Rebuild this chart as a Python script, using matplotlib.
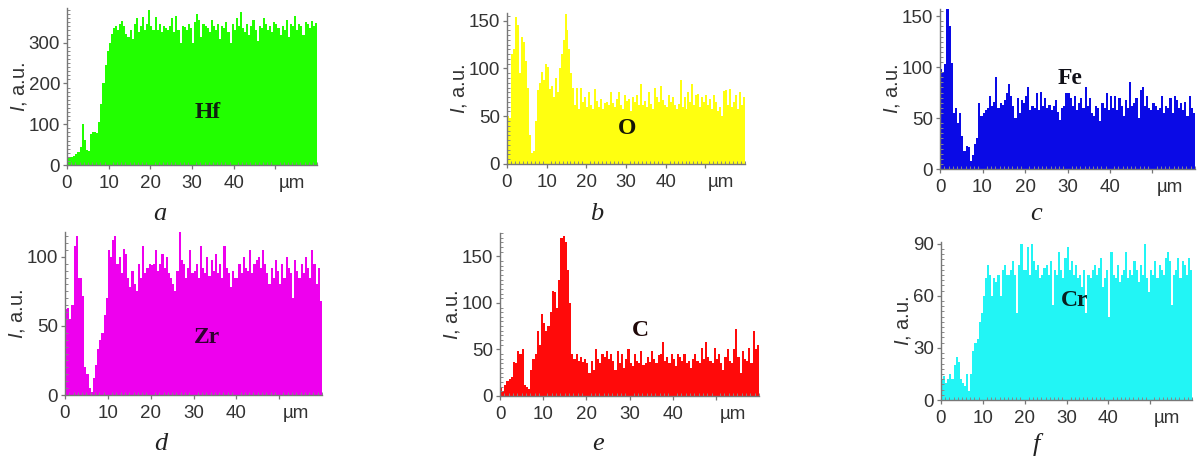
import numpy as np
import matplotlib
matplotlib.use("Agg")
import matplotlib.pyplot as plt
from matplotlib.ticker import MultipleLocator

plt.rcParams['font.family'] = ['Liberation Sans', 'DejaVu Sans']
plt.rcParams['mathtext.fontset'] = 'custom'
plt.rcParams['mathtext.it'] = 'Liberation Sans:italic'
plt.rcParams['mathtext.rm'] = 'Liberation Sans'

# EDX line scans, counts per 0.5 um step from 0 to 60 um
STEP = 0.5

hf = [18, 20, 20, 22, 26, 32, 45, 100, 62, 36,
      35, 75, 82, 80, 78, 105, 150, 200, 245, 280,
      300, 322, 335, 340, 330, 345, 352, 340, 322, 315,
      330, 310, 345, 360, 325, 340, 362, 330, 345, 380,
      340, 330, 362, 330, 345, 325, 340, 335, 330, 340,
      360, 325, 365, 330, 300, 340, 338, 330, 345, 335,
      298, 350, 370, 355, 315, 345, 340, 335, 325, 355,
      340, 330, 345, 310, 340, 335, 350, 325, 300, 345,
      330, 360, 340, 375, 335, 325, 345, 320, 340, 355,
      330, 305, 340, 335, 360, 345, 330, 340, 325, 350,
      345, 335, 320, 340, 330, 355, 315, 345, 340, 365,
      330, 345, 340, 320, 350, 345, 335, 352, 340, 348]

o = [50, 48, 115, 120, 154, 145, 95, 133, 128, 108,
     80, 30, 12, 14, 45, 77, 85, 96, 88, 105,
     102, 78, 82, 70, 90, 75, 100, 115, 130, 157,
     140, 120, 95, 80, 62, 80, 58, 80, 65, 70,
     60, 75, 62, 58, 78, 66, 60, 68, 58, 64,
     65, 62, 75, 64, 60, 68, 75, 62, 58, 72,
     66, 68, 55, 70, 65, 72, 62, 84, 62, 66,
     60, 75, 63, 58, 80, 70, 65, 82, 67, 62,
     60, 72, 65, 70, 62, 58, 63, 88, 60, 70,
     58, 75, 65, 84, 62, 72, 73, 60, 70, 65,
     72, 62, 68, 58, 72, 65, 55, 60, 50, 76,
     77, 62, 78, 60, 65, 72, 58, 75, 62, 70]

fe = [98, 95, 103, 157, 140, 104, 55, 60, 45, 55,
      32, 18, 23, 22, 8, 14, 25, 30, 65, 52,
      55, 58, 60, 72, 62, 66, 90, 60, 65, 63,
      68, 75, 83, 72, 62, 50, 70, 55, 68, 65,
      72, 80, 58, 62, 60, 75, 58, 76, 62, 70,
      60, 63, 58, 62, 68, 56, 48, 60, 62, 75,
      75, 70, 62, 72, 58, 65, 70, 60, 80, 62,
      70, 55, 52, 62, 60, 47, 65, 60, 75, 58,
      72, 60, 72, 58, 70, 62, 52, 68, 60, 85,
      62, 65, 70, 50, 78, 80, 62, 72, 60, 58,
      65, 62, 58, 60, 72, 55, 62, 60, 70, 55,
      72, 68, 60, 65, 58, 66, 52, 72, 60, 55]

zr = [62, 63, 55, 65, 108, 115, 85, 85, 72, 20,
      15, 5, 2, 12, 22, 33, 40, 45, 58, 70,
      105, 100, 112, 115, 95, 100, 88, 106, 102, 85,
      78, 90, 80, 75, 95, 85, 108, 88, 92, 95,
      94, 95, 105, 90, 95, 102, 92, 100, 88, 85,
      80, 75, 90, 118, 98, 95, 85, 92, 105, 88,
      90, 95, 85, 108, 92, 88, 100, 86, 98, 90,
      102, 88, 95, 85, 108, 92, 88, 78, 90, 85,
      85, 95, 88, 100, 92, 90, 105, 88, 95, 98,
      100, 92, 105, 95, 88, 80, 92, 85, 98, 90,
      80, 95, 85, 100, 92, 88, 70, 98, 90, 85,
      95, 88, 100, 92, 85, 105, 95, 80, 92, 68]

c = [10, 5, 12, 16, 18, 20, 36, 35, 48, 45,
     50, 12, 10, 8, 28, 40, 45, 70, 55, 88,
     78, 70, 75, 90, 113, 112, 95, 125, 170, 172,
     165, 135, 100, 45, 40, 45, 38, 42, 36, 40,
     35, 25, 38, 28, 50, 40, 35, 45, 42, 48,
     40, 45, 38, 28, 48, 35, 45, 30, 40, 50,
     35, 32, 45, 38, 35, 48, 33, 35, 42, 36,
     48, 40, 35, 44, 45, 58, 38, 42, 35, 45,
     40, 32, 45, 42, 38, 45, 35, 38, 30, 40,
     45, 38, 35, 52, 40, 58, 42, 38, 35, 52,
     40, 45, 35, 28, 42, 50, 38, 35, 50, 72,
     42, 25, 48, 40, 38, 52, 35, 70, 50, 55]

cr = [12, 14, 10, 12, 15, 12, 20, 25, 22, 12,
      10, 8, 15, 5, 15, 28, 33, 35, 45, 50,
      60, 70, 78, 72, 60, 70, 68, 72, 60, 75,
      78, 72, 72, 75, 80, 72, 50, 78, 90, 75,
      75, 88, 72, 90, 80, 75, 78, 70, 72, 76,
      78, 72, 80, 55, 75, 72, 85, 75, 70, 82,
      88, 75, 80, 72, 78, 70, 72, 65, 75, 50,
      72, 70, 75, 78, 72, 76, 82, 65, 70, 75,
      48, 85, 72, 70, 78, 68, 72, 75, 85, 70,
      75, 72, 80, 75, 68, 78, 72, 90, 70, 62,
      75, 72, 80, 70, 78, 75, 72, 82, 85, 80,
      55, 72, 75, 82, 70, 80, 78, 72, 82, 75]

series = [hf, o, fe, zr, c, cr]
elements = ["Hf", "O", "Fe", "Zr", "C", "Cr"]
letters = ["a", "b", "c", "d", "e", "f"]
colors = ["#22ff00", "#ffff10", "#0a0ae6", "#ee00ee", "#ff0a0a", "#22f5f5"]
elem_colors = ["#102010", "#151505", "#101018", "#300030", "#200808", "#082020"]
ymax = [385, 158, 157, 118, 175, 91]
ystep = [100, 50, 50, 50, 50, 30]

# axes boxes in pixels: left, top, right, bottom
W, H = 1197, 461
boxes = [(67, 8, 317, 165), (507, 13, 745, 164), (940, 9, 1195, 169),
         (65, 232, 322, 395), (500, 233, 759, 396), (941, 242, 1192, 400)]
elem_xy = [(208, 113), (627, 128), (1070, 78), (207, 337), (640, 330), (1075, 300)]
letter_xy = [(160, 214), (597, 214), (1036, 214), (161, 444), (598, 444), (1036, 444)]

fig = plt.figure(figsize=(W / 100, H / 100), dpi=100)

for i in range(6):
    l, t, r, b = boxes[i]
    ax = fig.add_axes([l / W, 1 - b / H, (r - l) / W, (b - t) / H])
    vals = np.array(series[i], dtype=float)
    edges = np.arange(len(vals) + 1) * STEP
    ax.stairs(vals, edges, fill=True, color=colors[i], linewidth=0)

    ax.set_xlim(0, 60)
    ax.set_ylim(0, ymax[i])
    ax.set_xticks([0, 10, 20, 30, 40, 50])
    ax.set_xticklabels(["0", "10", "20", "30", "40", ""])
    ax.yaxis.set_major_locator(MultipleLocator(ystep[i]))
    ax.xaxis.set_minor_locator(MultipleLocator(1))
    ax.yaxis.set_minor_locator(MultipleLocator(ystep[i] / 10))

    for s in ["top", "right"]:
        ax.spines[s].set_visible(False)
    for s in ["left", "bottom"]:
        ax.spines[s].set_color("#777777")
        ax.spines[s].set_linewidth(1.0)
    ax.tick_params(which="major", direction="out", length=3, width=0.9,
                   color="#777777", labelsize=13.5, labelcolor="#333333", pad=2)
    ax.tick_params(which="minor", direction="in", length=2, width=0.7,
                   color="#888888")
    ax.tick_params(axis="x", which="major", pad=4)

    ax.set_ylabel("$I$, a.u.", fontsize=14.5, color="#333333", labelpad=0)
    ax.annotate("µm", xy=(54, 0), xycoords=("data", "axes fraction"),
                xytext=(0, -7), textcoords="offset points",
                ha="center", va="top", fontsize=13.5, color="#333333")

    ex, ey = elem_xy[i]
    fig.text(ex / W, 1 - ey / H, elements[i], ha="center", va="center",
             fontsize=17, fontweight="bold", family="Liberation Serif",
             color=elem_colors[i])
    lx, ly = letter_xy[i]
    fig.text(lx / W, 1 - ly / H, letters[i], ha="center", va="center",
             fontsize=19, style="italic", family="Liberation Serif",
             color="#222222")

fig.savefig("out.png", dpi=100, facecolor="white")
